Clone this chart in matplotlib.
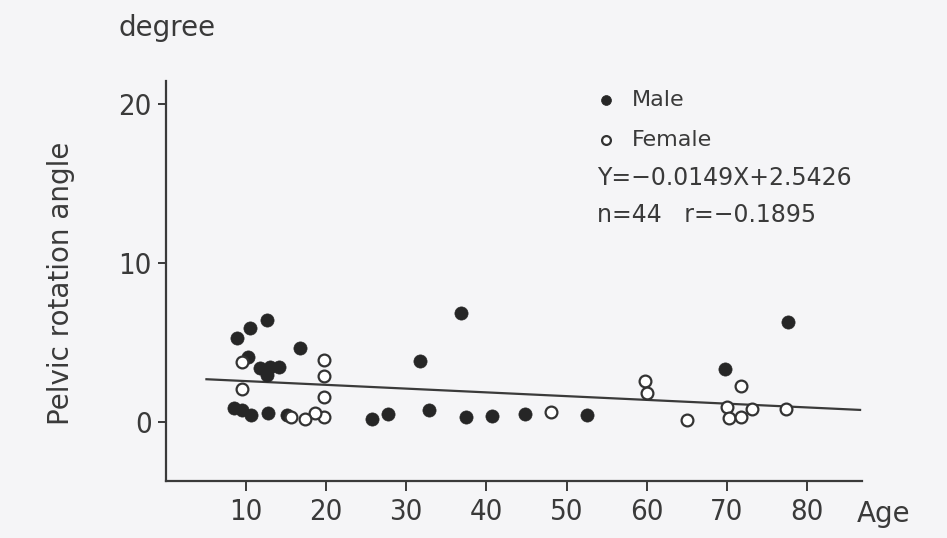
import matplotlib.pyplot as plt

# male subjects (filled circles): age, pelvic rotation angle (degree)
male_age = [8.9, 10.5, 12.6, 16.8, 31.7, 36.9, 77.6, 69.7,
            10.3, 11.8, 13.0, 14.1, 12.6,
            8.5, 9.5, 10.7, 12.8, 15.1, 25.7, 27.8, 32.8, 37.5, 40.7, 44.8, 52.5]
male_angle = [5.25, 5.87, 6.40, 4.62, 3.84, 6.82, 6.29, 3.30,
              4.09, 3.36, 3.46, 3.46, 2.94,
              0.84, 0.74, 0.42, 0.53, 0.42, 0.15, 0.48, 0.74, 0.31, 0.36, 0.47, 0.42]

# female subjects (open circles)
female_age = [9.5, 9.5, 19.7, 19.7, 19.7, 19.7, 18.6, 17.4, 15.7, 48.1,
              59.8, 60.0, 65.0, 70.0, 70.2, 71.8, 73.1, 77.4, 71.8]
female_angle = [3.77, 2.04, 3.88, 2.87, 1.53, 0.31, 0.53, 0.15, 0.31, 0.63,
                2.58, 1.79, 0.11, 0.91, 0.21, 0.31, 0.78, 0.78, 2.25]

# regression line as drawn in the figure
fit_age = [5.1, 86.6]
fit_angle = [2.67, 0.74]

x_ticks = [10, 20, 30, 40, 50, 60, 70, 80]
y_ticks = [0, 10, 20]

ink = '#3a3a3a'
bg = '#f5f5f7'

fig = plt.figure(figsize=(9.47, 5.38), dpi=100, facecolor=bg)
ax = fig.add_axes([0.1748, 0.106, 0.7351, 0.7434], facecolor=bg)

ax.plot(fit_age, fit_angle, color=ink, lw=1.6, zorder=1)
male = ax.scatter(male_age, male_angle, s=90, color='#262626', edgecolors='#262626',
                  linewidths=0.5, zorder=3)
female = ax.scatter(female_age, female_angle, s=72, facecolors='white', edgecolors='#333333',
                    linewidths=1.6, zorder=3)

ax.set_xlim(0, 86.8)
ax.set_ylim(-3.73, 21.43)
ax.set_xticks(x_ticks)
ax.set_yticks(y_ticks)
for side in ['top', 'right']:
    ax.spines[side].set_visible(False)
for side in ['left', 'bottom']:
    ax.spines[side].set_color(ink)
    ax.spines[side].set_linewidth(1.6)
ax.tick_params(axis='x', direction='out', length=7, width=1.4, color=ink, pad=5,
               labelsize=21, labelcolor=ink)
ax.tick_params(axis='y', direction='out', length=6, width=1.4, color=ink, pad=4,
               labelsize=21, labelcolor=ink)
for lab in ax.get_xticklabels() + ax.get_yticklabels():
    lab.set_fontstretch('condensed')

leg = ax.legend([male, female], ['Male', 'Female'], loc='upper left',
                bbox_to_anchor=(596 / 947, 1 - 90 / 538), bbox_transform=fig.transFigure,
                frameon=False, fontsize=16, markerscale=0.75, handlelength=0.9,
                handletextpad=0.7, borderpad=0, borderaxespad=0, labelspacing=0.9)
for t in leg.get_texts():
    t.set_color(ink)

fig.text(597 / 947, 1 - 185 / 538, 'Y=\u22120.0149X+2.5426', fontsize=17, color=ink,
         ha='left', va='baseline')
fig.text(597 / 947, 1 - 222 / 538, 'n=44   r=\u22120.1895', fontsize=17, color=ink,
         ha='left', va='baseline')

fig.text(118 / 947, 1 - 36 / 538, 'degree', fontsize=20, color=ink, ha='left', va='baseline')
fig.text(61 / 947, 1 - 283 / 538, 'Pelvic rotation angle', fontsize=20, color=ink,
         rotation=90, ha='center', va='center')
fig.text(857 / 947, 1 - 522 / 538, 'Age', fontsize=20, color=ink, ha='left', va='baseline')

fig.savefig('out.png', dpi=100, facecolor=bg)
